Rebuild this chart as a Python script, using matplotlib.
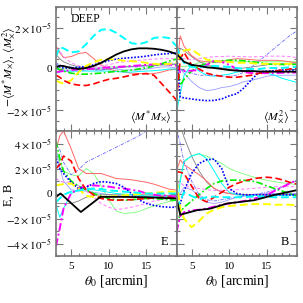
import matplotlib
matplotlib.use("Agg")
import matplotlib.pyplot as plt
from matplotlib.ticker import MultipleLocator, FixedLocator
import numpy as np

plt.rcParams['font.family'] = ['Liberation Serif', 'DejaVu Serif']
plt.rcParams['mathtext.fontset'] = 'stix'

# ---------------- data (units of 1e-5) ----------------
theta = [3, 3.5, 4, 5, 6, 7, 8, 9, 10, 11, 12, 13, 14, 15, 16, 17, 18, 19]

# Top-left panel: -<M* M_x>
mx_black  = [0.08, 0.16, 0.14, 0.05, 0.0, 0.05, 0.15, 0.3, 0.5, 0.7, 0.85, 0.95, 1.0, 1.0, 0.98, 0.93, 0.85, 0.72]
mx_cyanD  = [0.6, 1.05, 1.0, 0.8, 0.85, 1.2, 1.6, 1.9, 1.93, 1.75, 1.5, 1.25, 1.2, 1.3, 1.5, 1.55, 1.5, 1.1]
mx_redD   = [-0.3, -0.4, -0.55, -0.72, -0.78, -0.8, -0.72, -0.6, -0.5, -0.45, -0.38, -0.3, -0.25, -0.22, -0.3, -0.7, -1.1, -1.5]
mx_yelD   = [-0.56, -0.65, -0.7, -0.55, -0.15, 0.15, 0.32, 0.45, 0.48, 0.45, 0.4, 0.38, 0.35, 0.3, 0.25, 0.22, 0.25, 0.3]
mx_grnDD  = [0.08, -0.05, -0.1, -0.2, -0.25, -0.25, -0.22, -0.2, -0.15, -0.12, -0.1, -0.05, 0.0, 0.05, 0.15, 0.25, 0.38, 0.48]
mx_bluDot = [0.2, 0.1, 0.05, 0.05, 0.08, 0.12, 0.2, 0.3, 0.4, 0.48, 0.52, 0.55, 0.58, 0.62, 0.68, 0.72, 0.75, 0.78]
mx_magDD  = [-0.16, -0.12, -0.1, -0.05, -0.02, 0.0, 0.02, 0.05, 0.08, 0.1, 0.12, 0.15, 0.17, 0.2, 0.22, 0.25, 0.22, 0.16]
mx_salmon = [1.12, 0.8, 0.55, 0.6, 0.75, 0.8, 0.5, 0.2, 0.0, -0.1, -0.15, -0.2, -0.22, -0.24, -0.22, -0.15, -0.05, 0.0]
mx_pinkD  = [1.0, 0.85, 0.6, 0.3, 0.15, 0.1, 0.1, 0.15, 0.2, 0.3, 0.35, 0.4, 0.42, 0.45, 0.48, 0.5, 0.5, 0.5]
mx_gray   = [0.7, 0.5, 0.35, 0.2, 0.1, 0.05, 0.0, -0.05, 0.0, 0.05, 0.1, 0.12, 0.15, 0.18, 0.2, 0.2, 0.2, 0.25]
mx_periDD = [0.3, 0.2, 0.15, 0.1, 0.05, 0.0, -0.05, -0.05, 0.0, 0.05, 0.1, 0.1, 0.1, 0.1, 0.15, 0.2, 0.3, 0.2]
mx_lav    = [0.0, -0.05, -0.1, -0.1, -0.1, -0.05, 0.0, 0.05, 0.05, 0.0, -0.05, -0.05, -0.05, 0.0, 0.05, 0.1, 0.1, 0.05]
mx_cyanT  = [-0.2, -0.15, -0.1, -0.1, -0.1, -0.1, -0.1, -0.1, -0.1, -0.12, -0.15, -0.15, -0.12, -0.1, -0.08, -0.05, 0.0, 0.0]
mx_lgrn   = [0.1, 0.05, 0.0, 0.0, 0.05, 0.05, 0.05, 0.05, 0.1, 0.1, 0.1, 0.12, 0.15, 0.15, 0.2, 0.2, 0.22, 0.25]

# Top-right panel: <M_x^2>
xx_black  = [0.72, 0.55, 0.35, 0.2, 0.15, 0.08, 0.05, 0.0, -0.05, -0.08, -0.1, -0.1, -0.12, -0.12, -0.13, -0.13, -0.13, -0.13]
xx_cyanD  = [1.1, 0.6, 0.3, 0.1, 0.1, 0.12, 0.15, 0.12, 0.1, 0.05, 0.0, 0.0, 0.0, 0.05, 0.05, 0.05, 0.08, 0.1]
xx_redD   = [-1.5, 0.5, 0.8, 0.2, 0.0, -0.2, -0.3, -0.35, -0.4, -0.4, -0.35, -0.3, -0.2, -0.15, -0.1, -0.05, 0.0, 0.05]
xx_yelD   = [0.4, 0.7, 0.9, 0.95, 0.7, 0.45, 0.4, 0.35, 0.35, 0.3, 0.3, 0.28, 0.25, 0.25, 0.25, 0.25, 0.25, 0.25]
xx_grnDD  = [0.4, -0.8, -0.5, -0.1, 0.15, 0.25, 0.35, 0.4, 0.42, 0.42, 0.4, 0.35, 0.3, 0.25, 0.22, 0.22, 0.22, 0.22]
xx_bluDot = [0.8, -1.35, -1.4, -1.45, -1.5, -1.53, -1.52, -1.45, -1.3, -1.2, -0.9, -0.5, -0.15, -0.1, -0.08, -0.05, -0.05, -0.05]
xx_magDD  = [0.15, -0.15, -0.1, -0.08, -0.05, 0.2, 0.4, 0.35, 0.2, 0.0, -0.15, -0.2, -0.2, -0.2, -0.2, -0.18, -0.17, -0.17]
xx_salmon = [0.0, 1.6, 1.1, 0.65, 0.4, 0.35, 0.33, 0.35, 0.45, 0.5, 0.48, 0.45, 0.42, 0.42, 0.42, 0.4, 0.35, 0.3]
xx_pinkD  = [0.5, 0.5, 0.5, 0.45, 0.5, 0.55, 0.6, 0.6, 0.62, 0.6, 0.6, 0.58, 0.6, 0.62, 0.62, 0.62, 0.6, 0.55]
xx_gray   = [0.3, 1.0, 0.9, 0.6, 0.35, 0.2, 0.1, 0.05, 0.0, 0.0, 0.05, 0.1, 0.15, 0.2, 0.25, 0.25, 0.25, 0.25]
xx_periDD = [0.2, 0.0, -0.1, -0.2, -0.3, -0.3, -0.3, -0.35, -0.35, -0.3, -0.15, 0.1, 0.4, 0.7, 1.0, 1.3, 1.6, 1.85]
xx_lav    = [0.2, 0.0, -0.2, -0.6, -0.9, -1.05, -1.0, -0.9, -0.85, -0.75, -0.6, -0.55, -0.45, -0.35, -0.3, -0.3, -0.3, -0.3]
xx_cyanT  = [-2.1, -1.2, -0.3, 0.2, -0.1, -0.3, -0.35, -0.3, -0.25, -0.15, -0.1, -0.1, -0.12, -0.2, -0.3, -0.45, -0.55, -0.65]
xx_lgrn   = [0.2, 0.15, 0.1, 0.2, 0.3, 0.35, 0.4, 0.4, 0.4, 0.38, 0.35, 0.35, 0.35, 0.35, 0.35, 0.35, 0.35, 0.35]

# Bottom-left panel: E
e_black_x = [3, 3.6, 6.3, 8.9, 12, 15, 19]
e_black   = [-0.27, 0.0, -1.48, -0.27, -0.27, -0.3, -0.4]
e_cyanD   = [-0.7, -0.4, -0.1, 0.15, 0.25, 0.35, 0.4, 0.35, 0.25, 0.2, 0.15, 0.1, 0.05, 0.0, 0.0, 0.0, 0.0, 0.0]
e_redD    = [2.0, 2.3, 3.0, 2.6, 1.2, 0.3, -0.1, -0.4, -0.5, -0.55, -0.5, -0.5, -0.45, -0.4, -0.35, -0.3, -0.3, -0.4]
e_yelD    = [0.67, 0.7, 0.75, 0.8, 0.4, -0.2, -0.27, -0.27, -0.25, -0.2, -0.15, -0.1, -0.05, 0.0, 0.05, 0.1, 0.15, 0.15]
e_grnDD   = [4.2, 2.8, 1.8, 1.0, 0.6, 0.3, 0.0, -0.2, -0.4, -0.5, -0.55, -0.5, -0.45, -0.4, -0.4, -0.45, -0.5, -0.55]
e_bluDot  = [2.8, 2.0, 1.6, 0.9, 0.4, 0.5, 0.8, 0.95, 0.9, 0.8, 0.5, 0.0, -0.5, -0.8, -0.95, -1.05, -1.1, -1.1]
e_magDD   = [-4.2, -2.8, -1.2, 0.0, 0.4, 0.6, 0.65, 0.6, 0.55, 0.45, 0.4, 0.3, 0.2, 0.0, -0.1, -0.15, -0.2, -0.27]
e_salmon  = [3.5, 4.6, 5.0, 3.6, 2.0, 1.6, 1.6, 1.6, 1.4, 1.2, 1.15, 1.1, 1.0, 0.9, 0.75, 0.55, 0.35, 0.27]
e_pinkD   = [1.2, 1.0, 0.9, 0.9, 0.6, 0.2, -0.3, -0.8, -1.1, -1.3, -1.2, -1.1, -0.95, -0.8, -0.6, -0.5, -0.4, -0.4]
e_gray    = [-0.8, -0.8, -0.8, -0.8, -0.6, -0.3, -0.15, -0.1, -0.1, -0.1, -0.1, -0.1, -0.1, -0.1, -0.12, -0.12, -0.15, -0.15]
e_periDD  = [4.0, 3.5, 2.5, 1.5, 1.9, 2.5, 2.8, 3.1, 3.4, 3.7, 4.0, 4.3, 4.6, 5.0, 5.4, 5.8, 6.2, 6.6]
e_lav     = [3.5, 2.0, 1.0, 0.3, 0.2, 0.2, 0.1, 0.0, -0.1, -0.15, -0.2, -0.2, -0.2, -0.2, -0.2, -0.2, -0.2, -0.2]
e_cyanT   = [-0.9, -1.9, -1.2, 0.0, 0.25, 0.3, 0.3, 0.2, 0.1, 0.0, -0.05, -0.1, -0.15, -0.2, -0.25, -0.25, -0.25, -0.3]
e_lgrn    = [3.5, 2.5, 1.8, 1.5, 1.4, 2.0, 1.6, 0.6, -0.5, -1.4, -1.6, -1.55, -1.45, -1.2, -1.0, -0.8, -0.65, -0.55]

# Bottom-right panel: B
b_black_x = [3, 3.5, 5.7, 7.5, 9.7, 13.3, 15.9, 19]
b_black   = [-0.4, -1.7, -1.34, -1.21, -0.8, -0.54, -0.13, 0.27]
b_cyanD   = [-1.2, -0.6, 0.1, -0.2, -0.45, -0.3, -0.25, -0.3, -0.3, -0.3, -0.3, -0.25, -0.25, -0.25, -0.3, -0.3, -0.3, -0.3]
b_redD    = [1.75, 1.7, 1.6, 0.6, -0.4, -0.67, -0.3, 0.1, 0.5, 0.8, 1.0, 1.15, 1.25, 1.3, 1.25, 1.1, 0.9, 0.75]
b_yelD    = [1.0, -1.2, -2.0, -2.7, -2.2, -1.6, -1.3, -1.1, -1.0, -0.95, -0.9, -0.85, -0.85, -0.85, -0.9, -0.9, -0.9, -0.94]
b_grnDD   = [-3.0, -1.5, -1.1, -0.6, -0.1, 0.4, 0.8, 1.0, 1.07, 1.07, 1.05, 1.0, 0.85, 0.6, 0.4, 0.2, 0.0, -0.2]
b_bluDot  = [-1.0, -0.8, 0.2, 1.6, 2.4, 2.7, 2.75, 2.0, 0.4, 0.0, -0.1, -0.1, -0.1, -0.1, -0.1, -0.1, -0.1, -0.1]
b_magDD   = [-3.1, -1.8, -1.5, -1.35, -1.3, -1.2, -1.05, -0.9, -0.8, -0.7, -0.6, -0.45, -0.3, -0.1, 0.2, 0.5, 0.8, 1.07]
b_salmon  = [1.8, 2.7, 2.3, 1.9, 1.5, 1.0, 0.4, 0.13, 0.0, -0.1, -0.1, -0.1, -0.1, -0.1, -0.1, -0.1, -0.1, -0.1]
b_pinkD   = [0.8, 0.9, 0.6, 0.5, 0.4, 0.3, 0.25, 0.25, 0.25, 0.3, 0.35, 0.4, 0.45, 0.5, 0.55, 0.55, 0.55, 0.55]
b_gray    = [5.0, 5.5, 4.5, 3.0, 1.8, 0.9, 0.4, 0.1, 0.0, -0.05, -0.1, -0.1, -0.1, -0.1, -0.1, -0.1, -0.1, -0.1]
b_periDD  = [5.2, 4.0, 2.5, 1.0, -0.1, -0.5, -0.6, -0.5, -0.4, -0.3, -0.2, -0.1, 0.0, 0.1, 0.3, 0.5, 0.8, 1.1]
b_lav     = [-0.5, 0.0, 0.5, 0.3, -0.2, -0.7, -0.8, -0.7, -0.5, -0.3, -0.2, -0.1, -0.05, 0.0, 0.0, 0.0, 0.0, 0.0]
b_cyanT   = [-1.5, 1.0, 2.6, 3.0, 3.2, 2.8, 1.8, 0.8, 0.1, -0.1, -0.15, -0.15, -0.15, -0.15, -0.15, -0.15, -0.15, -0.15]
b_lgrn    = [0.0, 1.2, 2.5, 3.0, 3.15, 3.0, 2.7, 2.4, 2.0, 1.75, 1.55, 1.35, 1.2, 1.05, 0.95, 0.85, 0.8, 0.7]

scale = 1e-5
tick_labels_top = [r'$-2\times10^{-5}$', '0', r'$2\times10^{-5}$']
tick_labels_bot = [r'$-4\times10^{-5}$', r'$-2\times10^{-5}$', '0', r'$2\times10^{-5}$', r'$4\times10^{-5}$']

# ---------------- styles ----------------
styles = {
    'lgrn':   dict(color='#77ff77', lw=0.6, ls='-'),
    'lav':    dict(color='#9999ff', lw=0.6, ls='-'),
    'gray':   dict(color='#808080', lw=0.6, ls='-'),
    'salmon': dict(color='#ff6666', lw=0.7, ls='-'),
    'cyanT':  dict(color='#00ffff', lw=0.7, ls='-'),
    'periDD': dict(color='#6666ff', lw=0.6, ls=(0, (4, 1.5, 1, 1.5))),
    'pinkD':  dict(color='#ff88ff', lw=0.8, ls=(0, (3, 2))),
    'grnDD':  dict(color='#00ee00', lw=1.2, ls=(0, (4, 1.5, 1, 1.5))),
    'magDD':  dict(color='#ff00ff', lw=1.4, ls=(0, (4, 1.5, 1, 1.5))),
    'bluDot': dict(color='#0000ff', lw=1.2, ls=(0, (1, 1))),
    'yelD':   dict(color='#ffff00', lw=1.4, ls=(0, (4, 2))),
    'redD':   dict(color='#ff0000', lw=1.2, ls=(0, (4, 2))),
    'cyanD':  dict(color='#00ffff', lw=1.4, ls=(0, (4, 2))),
    'black':  dict(color='#000000', lw=1.3, ls='-'),
}
order = ['lgrn', 'lav', 'gray', 'salmon', 'cyanT', 'periDD', 'pinkD', 'grnDD',
         'magDD', 'bluDot', 'yelD', 'redD', 'cyanD', 'black']

g = globals()
def draw(ax, prefix, black_x=None):
    for name in order:
        y = np.array(g[prefix + '_' + name]) * scale
        x = theta if (name != 'black' or black_x is None) else black_x
        ax.plot(x, y, solid_capstyle='butt', **styles[name])

W, H = 303, 303
fig = plt.figure(figsize=(W / 100, H / 100), dpi=100)
L, M, R = 56, 176.5, 297
T, Mid, B = 7, 131, 256
def rect(x0, x1, y0, y1):
    return [x0 / W, 1 - y1 / H, (x1 - x0) / W, (y1 - y0) / H]

ax_tl = fig.add_axes(rect(L, M, T, Mid))
ax_tr = fig.add_axes(rect(M, R, T, Mid))
ax_bl = fig.add_axes(rect(L, M, Mid, B))
ax_br = fig.add_axes(rect(M, R, Mid, B))

draw(ax_tl, 'mx')
draw(ax_tr, 'xx')
draw(ax_bl, 'e', e_black_x)
draw(ax_br, 'b', b_black_x)

frame_col = '#777777'
for ax in (ax_tl, ax_tr, ax_bl, ax_br):
    ax.set_xlim(3, 19)
    ax.xaxis.set_major_locator(FixedLocator([5, 10, 15]))
    ax.xaxis.set_minor_locator(MultipleLocator(1))
    ax.tick_params(which='both', direction='in', top=True, right=True,
                   color=frame_col, labelsize=8)
    ax.tick_params(axis='x', pad=4)
    ax.tick_params(axis='y', pad=3)
    ax.tick_params(which='major', length=5, width=0.8)
    ax.tick_params(which='minor', length=2.5, width=0.8)
    for s in ax.spines.values():
        s.set_color(frame_col)
        s.set_linewidth(1.2)

for ax in (ax_tl, ax_tr):
    ax.set_ylim(-3e-5, 3e-5)
    ax.yaxis.set_major_locator(FixedLocator([-2e-5, 0, 2e-5]))
    ax.yaxis.set_minor_locator(MultipleLocator(0.5e-5))
    ax.set_xticklabels([])
for ax in (ax_bl, ax_br):
    ax.set_ylim(-5e-5, 5e-5)
    ax.yaxis.set_major_locator(FixedLocator([-4e-5, -2e-5, 0, 2e-5, 4e-5]))
    ax.yaxis.set_minor_locator(MultipleLocator(1e-5))
    ax.set_xticklabels(['5', '10', '15'])
    ax.set_xlabel(r'$\theta_0$ [arcmin]', fontsize=10, labelpad=2)

ax_tl.set_yticklabels(tick_labels_top)
ax_bl.set_yticklabels(tick_labels_bot)
ax_tr.set_yticklabels([])
ax_br.set_yticklabels([])

fig.text(9 / W, 1 - 67 / H, r'$-\langle M^{*}M_{\times}\rangle$, $\langle M^{2}_{\times}\rangle$',
         fontsize=8.5, rotation=90, ha='center', va='center')
fig.text(9 / W, 1 - 195 / H, 'E, B', fontsize=9, rotation=90, ha='center', va='center')

ax_tl.text(0.12, 0.90, 'DEEP', transform=ax_tl.transAxes, fontsize=8.5, va='center', ha='left')
ax_tl.text(0.96, 0.11, r'$\langle M^{*}M_{\times}\rangle$', transform=ax_tl.transAxes, fontsize=8.5, va='center', ha='right')
ax_tr.text(0.93, 0.11, r'$\langle M^{2}_{\times}\rangle$', transform=ax_tr.transAxes, fontsize=8.5, va='center', ha='right')
ax_bl.text(0.93, 0.11, 'E', transform=ax_bl.transAxes, fontsize=9, va='center', ha='right')
ax_br.text(0.93, 0.11, 'B', transform=ax_br.transAxes, fontsize=9, va='center', ha='right')

fig.savefig('out.png', dpi=100)
